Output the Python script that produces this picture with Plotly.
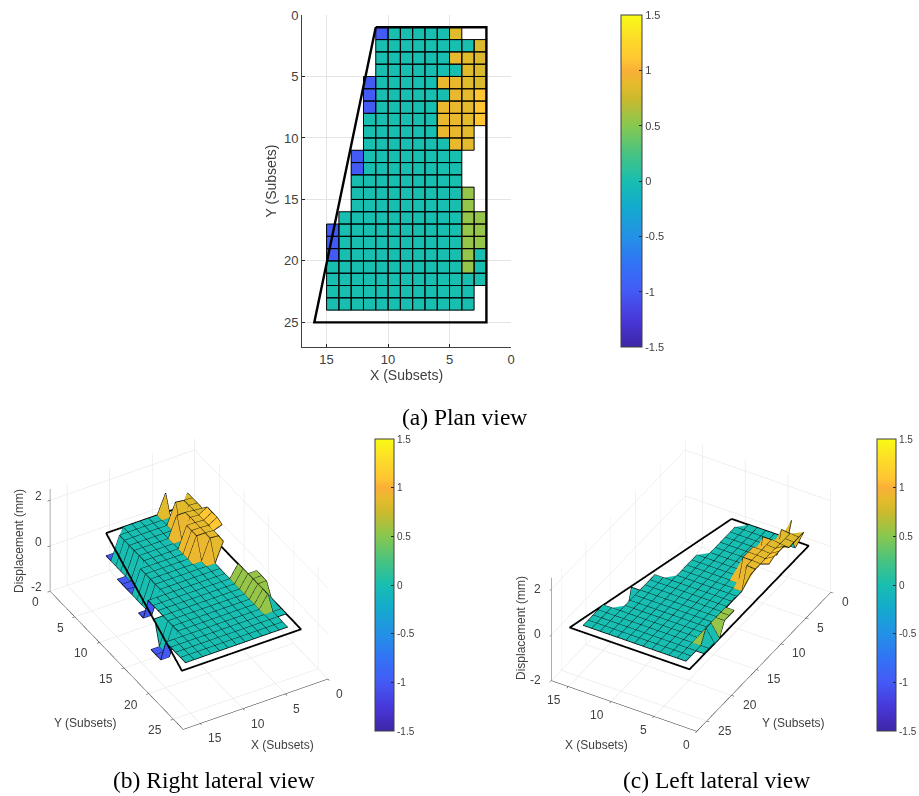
import numpy as np
import plotly.graph_objects as go

W, H = 919, 796
n = None

# node columns, left to right in the plan view
x_nodes = [15, 14, 13, 12, 11, 10, 9, 8, 7, 6, 5, 4, 3, 2]
y_nodes = list(range(1, 25))
# displacement (mm) per subset node, one list per Y row
z_rows = [
    [n, n, n, n, -1.0, -1.0, 0, 0, 0, 0, 0, 0.85, n, n],
    [n, n, n, n, -1.0, 0, 0, 0, 0, 0, 0, 0, 0, 0.82],
    [n, n, n, n, -1.0, 0, 0, 0, 0, 0, 0, 0.9, 0.85, 0.82],
    [n, n, n, n, -1.0, 0, 0, 0, 0, 0, 0, 0, 0.85, 0.82],
    [n, n, n, -1.0, -1.0, 0, 0, 0, 0, 0, 0.9, 0.9, 0.85, 0.82],
    [n, n, n, -1.0, -1.0, 0, 0, 0, 0, 0, 0, 0.9, 0.87, 1.1],
    [n, n, n, -1.0, -1.0, 0, 0, 0, 0, 0, 0.9, 0.9, 0.87, 1.1],
    [n, n, n, -1.0, 0, 0, 0, 0, 0, 0, 0.9, 0.9, 0.87, 1.1],
    [n, n, n, -1.0, 0, 0, 0, 0, 0, 0, 0.9, 0.9, 0.87, 1.0],
    [n, n, n, -1.0, 0, 0, 0, 0, 0, 0, 0, 0.9, 0.87, n],
    [n, n, -1.0, -1.0, 0, 0, 0, 0, 0, 0, 0, 0, 0.85, n],
    [n, n, -1.0, -1.0, 0, 0, 0, 0, 0, 0, 0, 0, n, n],
    [n, n, 0, 0, 0, 0, 0, 0, 0, 0, 0, 0, n, n],
    [n, n, 0, 0, 0, 0, 0, 0, 0, 0, 0, 0, 0.55, n],
    [n, n, 0, 0, 0, 0, 0, 0, 0, 0, 0, 0, 0.55, n],
    [n, 0, 0, 0, 0, 0, 0, 0, 0, 0, 0, 0, 0.55, 0.55],
    [-1.0, -1.0, 0, 0, 0, 0, 0, 0, 0, 0, 0, 0, 0.55, 0.55],
    [-1.0, -1.0, 0, 0, 0, 0, 0, 0, 0, 0, 0, 0, 0.55, 0.55],
    [-1.0, -1.0, 0, 0, 0, 0, 0, 0, 0, 0, 0, 0, 0.55, 0],
    [0, 0, 0, 0, 0, 0, 0, 0, 0, 0, 0, 0, 0.55, 0],
    [0, 0, 0, 0, 0, 0, 0, 0, 0, 0, 0, 0, 0, 0],
    [0, 0, 0, 0, 0, 0, 0, 0, 0, 0, 0, 0, 0, 0],
    [0, 0, 0, 0, 0, 0, 0, 0, 0, 0, 0, 0, 0, n],
    [0, 0, 0, 0, 0, 0, 0, 0, 0, 0, 0, 0, 0, n],
]
# specimen outline
outline_x = [11, 2, 2, 16, 11]
outline_y = [1, 1, 25, 25, 1]
outline_z = [0, 0, 0, 0, 0]

parula = [
    [0.000, "rgb(62,38,168)"], [0.080, "rgb(71,55,215)"], [0.167, "rgb(68,90,245)"],
    [0.250, "rgb(50,115,245)"], [0.333, "rgb(35,145,230)"], [0.420, "rgb(20,170,205)"],
    [0.500, "rgb(24,190,176)"], [0.580, "rgb(70,195,130)"], [0.667, "rgb(135,200,80)"],
    [0.750, "rgb(205,185,45)"], [0.790, "rgb(228,187,44)"], [0.833, "rgb(250,175,55)"],
    [0.870, "rgb(255,200,50)"], [0.930, "rgb(252,220,40)"], [1.000, "rgb(249,251,21)"],
]

cbar_ticks = [-1.5, -1, -0.5, 0, 0.5, 1, 1.5]
cbar_text = ["-1.5", "-1", "-0.5", "0", "0.5", "1", "1.5"]
x_ticks = [0, 5, 10, 15]
y_ticks = [0, 5, 10, 15, 20, 25]
z_ticks = [-2, 0, 2]
x_range = [17, 0]
y_range = [27, 0]
z_range = [-2, 2.5]

Z = np.array([[np.nan if v is None else v for v in r] for r in z_rows], float)
X = np.array(x_nodes, float)
Y = np.array(y_nodes, float)

# cells: a cell spans nodes (r,c) to (r+1,c-1); its colour is the value at its low-index node
cells = []
for r in range(Z.shape[0] - 1):
    for c in range(1, Z.shape[1]):
        if not np.isnan(Z[r, c]) and not np.isnan(Z[r, c - 1]) and not np.isnan(Z[r + 1, c]) and not np.isnan(Z[r + 1, c - 1]):
            cells.append((r, c))

cell_grid = np.full((Z.shape[0] - 1, Z.shape[1] - 1), np.nan)
for r, c in cells:
    cell_grid[r, c - 1] = Z[r, c]

rr, cc = np.indices(Z.shape)
vx, vy, vz = X[cc].ravel(), Y[rr].ravel(), np.nan_to_num(Z).ravel()
vid = lambda r, c: r * Z.shape[1] + c
ti, tj, tk, inten = [], [], [], []
for r, c in cells:
    a, b, d, e = vid(r, c), vid(r, c - 1), vid(r + 1, c - 1), vid(r + 1, c)
    ti += [a, a]; tj += [b, d]; tk += [d, e]; inten += [Z[r, c], Z[r, c]]

lx, ly, lz = [], [], []
for r, c in cells:
    for q in [(r, c), (r, c - 1), (r + 1, c - 1), (r + 1, c), (r, c)]:
        lx.append(X[q[1]]); ly.append(Y[q[0]]); lz.append(Z[q])
    lx.append(None); ly.append(None); lz.append(None)


def px_x(p): return p / W
def px_y(p): return 1 - p / H


def cbar(left, top, bottom, size, thick):
    return dict(
        x=px_x(left), xanchor="left", y=px_y(top), yanchor="top", len=bottom - top, lenmode="pixels",
        thickness=thick, thicknessmode="pixels", xpad=0, ypad=0, outlinecolor="#404040", outlinewidth=1,
        tickvals=cbar_ticks, ticktext=cbar_text, ticks="inside", ticklen=3, tickcolor="#262626",
        tickfont=dict(family="Liberation Sans", size=size, color="#404040"),
    )


fig = go.Figure()
fig.add_trace(go.Heatmap(
    x=X, y=Y, z=cell_grid, colorscale=parula, zmin=-1.5, zmax=1.5,
    colorbar=cbar(621, 15, 347, 11, 21), hoverinfo="skip",
))
fig.add_trace(go.Scatter(x=lx, y=ly, mode="lines", line=dict(color="black", width=1), showlegend=False))
fig.add_trace(go.Scatter(x=outline_x, y=outline_y, mode="lines", line=dict(color="black", width=2.4), showlegend=False))

tick_font = dict(family="Liberation Sans", size=13, color="#404040")
title_font = dict(family="Liberation Sans", size=14, color="#404040")
fig.update_layout(
    width=W, height=H, margin=dict(l=0, r=0, t=0, b=0, autoexpand=False), paper_bgcolor="white", plot_bgcolor="white",
    showlegend=False,
    xaxis=dict(domain=[px_x(302), px_x(511)], range=x_range, tickvals=x_ticks, ticks="inside", ticklen=3,
               tickcolor="#262626", showline=True, linecolor="#404040", gridcolor="#e4e4e4", zeroline=False,
               tickfont=tick_font, title=dict(text="X (Subsets)", font=title_font, standoff=2), anchor="y"),
    yaxis=dict(domain=[px_y(347), px_y(15)], range=y_range, tickvals=y_ticks, ticks="inside", ticklen=3,
               tickcolor="#262626", showline=True, linecolor="#404040", gridcolor="#e4e4e4", zeroline=False,
               tickfont=tick_font, title=dict(text="Y (Subsets)", font=title_font, standoff=4), anchor="x"),
)


def axis3(rng, ticks):
    return dict(
        title=dict(text=""),
        range=rng, tickvals=ticks, showbackground=False, gridcolor="#e0e0e0", gridwidth=1, zeroline=False,
        showline=True, linecolor="#262626", linewidth=1, ticks="outside", ticklen=3, tickcolor="#262626",
        showticklabels=False, showspikes=False,
    )


lab3 = dict(family="Liberation Sans", size=12, color="#404040")


def tick_notes(xy_at, xa, ya, za):
    """Tick labels tied to the scene's own data coordinates; xa/ya/za = (anchor, xshift, yshift)."""
    notes = []
    for v in x_ticks:
        notes.append(dict(x=v, y=xy_at["x_axis_y"], z=z_range[0], text=str(v), xanchor=xa[0], xshift=xa[1], yshift=xa[2]))
    for v in y_ticks:
        notes.append(dict(x=xy_at["y_axis_x"], y=v, z=z_range[0], text=str(v), xanchor=ya[0], xshift=ya[1], yshift=ya[2]))
    for v in z_ticks:
        notes.append(dict(x=xy_at["z_axis"][0], y=xy_at["z_axis"][1], z=v, text=str(v), xanchor=za[0], xshift=za[1], yshift=za[2]))
    for d in notes:
        d.update(showarrow=False, yanchor="middle", font=lab3)
    return notes


def add_view(name, eye, dom_x, dom_y, bar, notes):
    fig.add_trace(go.Mesh3d(
        x=vx, y=vy, z=vz, i=ti, j=tj, k=tk, intensity=inten, intensitymode="cell", colorscale=parula,
        cmin=-1.5, cmax=1.5, flatshading=True, lighting=dict(ambient=1, diffuse=0, specular=0, fresnel=0, roughness=1),
        colorbar=bar, scene=name, hoverinfo="skip",
    ))
    fig.add_trace(go.Scatter3d(x=lx, y=ly, z=lz, mode="lines", line=dict(color="black", width=1.6), scene=name, showlegend=False))
    fig.add_trace(go.Scatter3d(x=outline_x, y=outline_y, z=outline_z, mode="lines", line=dict(color="black", width=3.6), scene=name, showlegend=False))
    fig.update_layout({name: dict(
        domain=dict(x=[px_x(dom_x[0]), px_x(dom_x[1])], y=[px_y(dom_y[1]), px_y(dom_y[0])]),
        xaxis=axis3(x_range, x_ticks),
        yaxis=axis3(y_range, y_ticks),
        zaxis=axis3(z_range, z_ticks),
        aspectmode="manual", aspectratio=dict(x=1.045, y=1.66, z=0.80),
        camera=dict(projection=dict(type="orthographic"), up=dict(x=0, y=0, z=1),
                    center=dict(x=0, y=0, z=0), eye=eye),
        annotations=notes,
    )})


add_view("scene", dict(x=-0.645, y=-1.113, z=0.968), (0, 378), (424, 744), cbar(375, 439, 731, 10, 19),
         tick_notes(dict(x_axis_y=27, y_axis_x=17, z_axis=(17, 0)), ("left", 6, -15), ("right", -9, -11), ("right", -6, 4)))
add_view("scene2", dict(x=0.645, y=-1.113, z=0.968), (510, 872), (423.5, 745.5), cbar(877, 439, 731, 10, 19),
         tick_notes(dict(x_axis_y=27, y_axis_x=0, z_axis=(17, 27)), ("right", -5, -14), ("left", 9, -10), ("right", -8, 0)))

cap_font = dict(family="Liberation Serif", size=23.5, color="black")
for text, cx, cy in [("(a) Plan view", 464.5, 417), ("(b) Right lateral view", 214, 780), ("(c) Left lateral view", 716, 780)]:
    fig.add_annotation(text=text, x=px_x(cx), y=px_y(cy), xref="paper", yref="paper", xanchor="center", yanchor="middle",
                       showarrow=False, font=cap_font)

for text, cx, cy, ang in [("X (Subsets)", 282, 745, 0), ("Y (Subsets)", 85, 723, 0), ("Displacement (mm)", 19, 541, -90),
                          ("X (Subsets)", 596, 745, 0), ("Y (Subsets)", 793, 723, 0), ("Displacement (mm)", 521, 628, -90)]:
    fig.add_annotation(text=text, x=px_x(cx), y=px_y(cy), xref="paper", yref="paper", xanchor="center", yanchor="middle",
                       showarrow=False, font=lab3, textangle=ang)

fig.write_html("out.html", post_script="document.body.style.margin='0';", config=dict(displayModeBar=False))
